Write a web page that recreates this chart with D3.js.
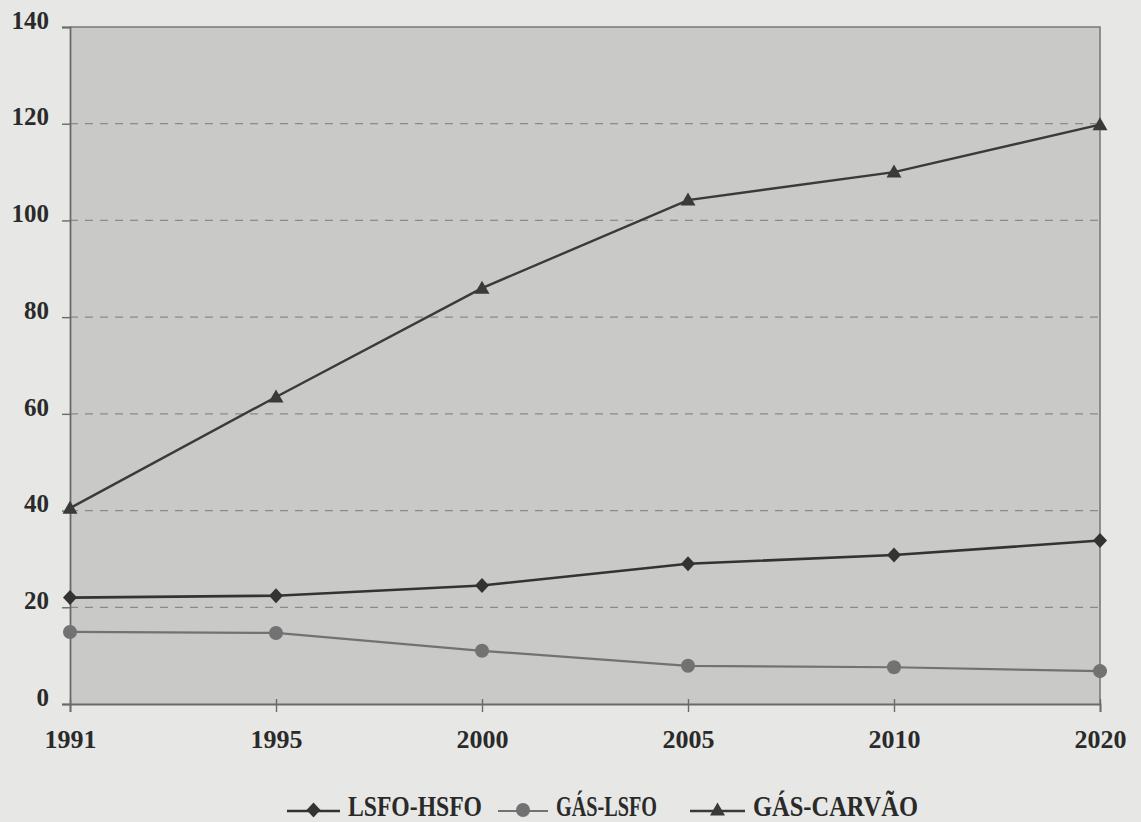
<!DOCTYPE html>
<html>
<head>
<meta charset="utf-8">
<script src="https://cdn.jsdelivr.net/npm/d3@7"></script>
<style>
  html, body { margin: 0; padding: 0; background: #e7e7e5; }
  svg { display: block; }
  text { font-family: "Liberation Serif", "Times New Roman", serif; font-weight: bold; fill: #2a2a2a; }
</style>
</head>
<body>
<svg id="chart" width="1141" height="822"></svg>
<script>
// Years on the category axis
const years = ["1991", "1995", "2000", "2005", "2010", "2020"];

// Series values
const lsfoHsfo   = [22.0, 22.4, 24.5, 29.0, 30.8, 33.8];
const gasLsfo    = [14.9, 14.7, 11.0, 7.9, 7.6, 6.8];
const gasCarvao  = [40.5, 63.5, 86.0, 104.2, 110.0, 119.8];

// Series names and value-axis ticks
const seriesNames = ["LSFO-HSFO", "GÁS-LSFO", "GÁS-CARVÃO"];
const yTicks = [0, 20, 40, 60, 80, 100, 120, 140];

const series = [
  { name: seriesNames[0], values: lsfoHsfo,  color: "#333333", width: 2.6, marker: "diamond" },
  { name: seriesNames[1], values: gasLsfo,   color: "#727272", width: 2.2, marker: "circle" },
  { name: seriesNames[2], values: gasCarvao, color: "#3a3a3a", width: 2.4, marker: "triangle" }
];

const svg = d3.select("#chart");

const plot = { left: 70, right: 1100, top: 27, bottom: 704 };

const x = d3.scalePoint().domain(years).range([plot.left, plot.right]);
const y = d3.scaleLinear().domain([0, 140]).range([plot.bottom, plot.top]);

// Plot area background
svg.append("rect")
  .attr("x", plot.left).attr("y", plot.top)
  .attr("width", plot.right - plot.left).attr("height", plot.bottom - plot.top)
  .attr("fill", "#c9c9c8");

// Dashed horizontal gridlines
svg.append("g")
  .selectAll("line")
  .data(yTicks.filter(t => t > 0 && t < 140))
  .join("line")
  .attr("x1", plot.left).attr("x2", plot.right)
  .attr("y1", d => y(d)).attr("y2", d => y(d))
  .attr("stroke", "#8a8a8a")
  .attr("stroke-width", 1.2)
  .attr("stroke-dasharray", "8,7");

// Top and right border of the plot area
svg.append("path")
  .attr("d", `M${plot.left},${plot.top}H${plot.right}V${plot.bottom}`)
  .attr("fill", "none")
  .attr("stroke", "#7a7a7a")
  .attr("stroke-width", 1.6);

// Value axis
const yAxis = svg.append("g")
  .attr("transform", `translate(${plot.left},0)`)
  .call(d3.axisLeft(y).tickValues(yTicks).tickSize(8).tickPadding(13));
yAxis.select(".domain").attr("stroke", "#6a6a6a").attr("stroke-width", 1.8);
yAxis.selectAll(".tick line").attr("stroke", "#6a6a6a").attr("stroke-width", 1.4);
yAxis.selectAll(".tick text")
  .attr("font-size", 25)
  .attr("dy", "0.05em")
  .attr("fill", "#2a2a2a");

// Category axis
const xAxis = svg.append("g")
  .attr("transform", `translate(0,${plot.bottom})`)
  .call(d3.axisBottom(x).tickSize(8).tickPadding(18));
xAxis.select(".domain").attr("stroke", "#6a6a6a").attr("stroke-width", 1.8);
xAxis.selectAll(".tick line")
  .attr("y1", -5)
  .attr("stroke", "#6a6a6a").attr("stroke-width", 1.4);
xAxis.selectAll(".tick text")
  .attr("font-size", 26)
  .attr("fill", "#2a2a2a");

// Marker shapes
function markerPath(kind) {
  if (kind === "diamond") return "M0,-7.5L7,0L0,7.5L-7,0Z";
  if (kind === "triangle") return "M0,-7.5L7.5,5.5L-7.5,5.5Z";
  return d3.symbol().type(d3.symbolCircle).size(155)();
}

const line = d3.line()
  .x((d, i) => x(years[i]))
  .y(d => y(d));

// Series lines and markers
series.forEach(s => {
  svg.append("path")
    .datum(s.values)
    .attr("d", line)
    .attr("fill", "none")
    .attr("stroke", s.color)
    .attr("stroke-width", s.width);

  svg.append("g")
    .selectAll("path")
    .data(s.values)
    .join("path")
    .attr("transform", (d, i) => `translate(${x(years[i])},${y(d)})`)
    .attr("d", markerPath(s.marker))
    .attr("fill", s.color);
});

// Legend
const legendItems = [
  { lineFrom: 287, lineTo: 340, textX: 348, textW: 134 },
  { lineFrom: 498, lineTo: 548, textX: 556, textW: 101 },
  { lineFrom: 690, lineTo: 745, textX: 753, textW: 165 }
];
const legendY = 811;
series.forEach((s, i) => {
  const it = legendItems[i];
  const g = svg.append("g");
  g.append("line")
    .attr("x1", it.lineFrom).attr("x2", it.lineTo)
    .attr("y1", legendY).attr("y2", legendY)
    .attr("stroke", s.color).attr("stroke-width", s.width);
  g.append("path")
    .attr("transform", `translate(${(it.lineFrom + it.lineTo) / 2},${legendY - 1})`)
    .attr("d", markerPath(s.marker))
    .attr("fill", s.color);
  g.append("text")
    .attr("x", it.textX).attr("y", 816)
    .attr("font-size", 29)
    .attr("textLength", it.textW)
    .attr("lengthAdjust", "spacingAndGlyphs")
    .text(s.name);
});
</script>
</body>
</html>
